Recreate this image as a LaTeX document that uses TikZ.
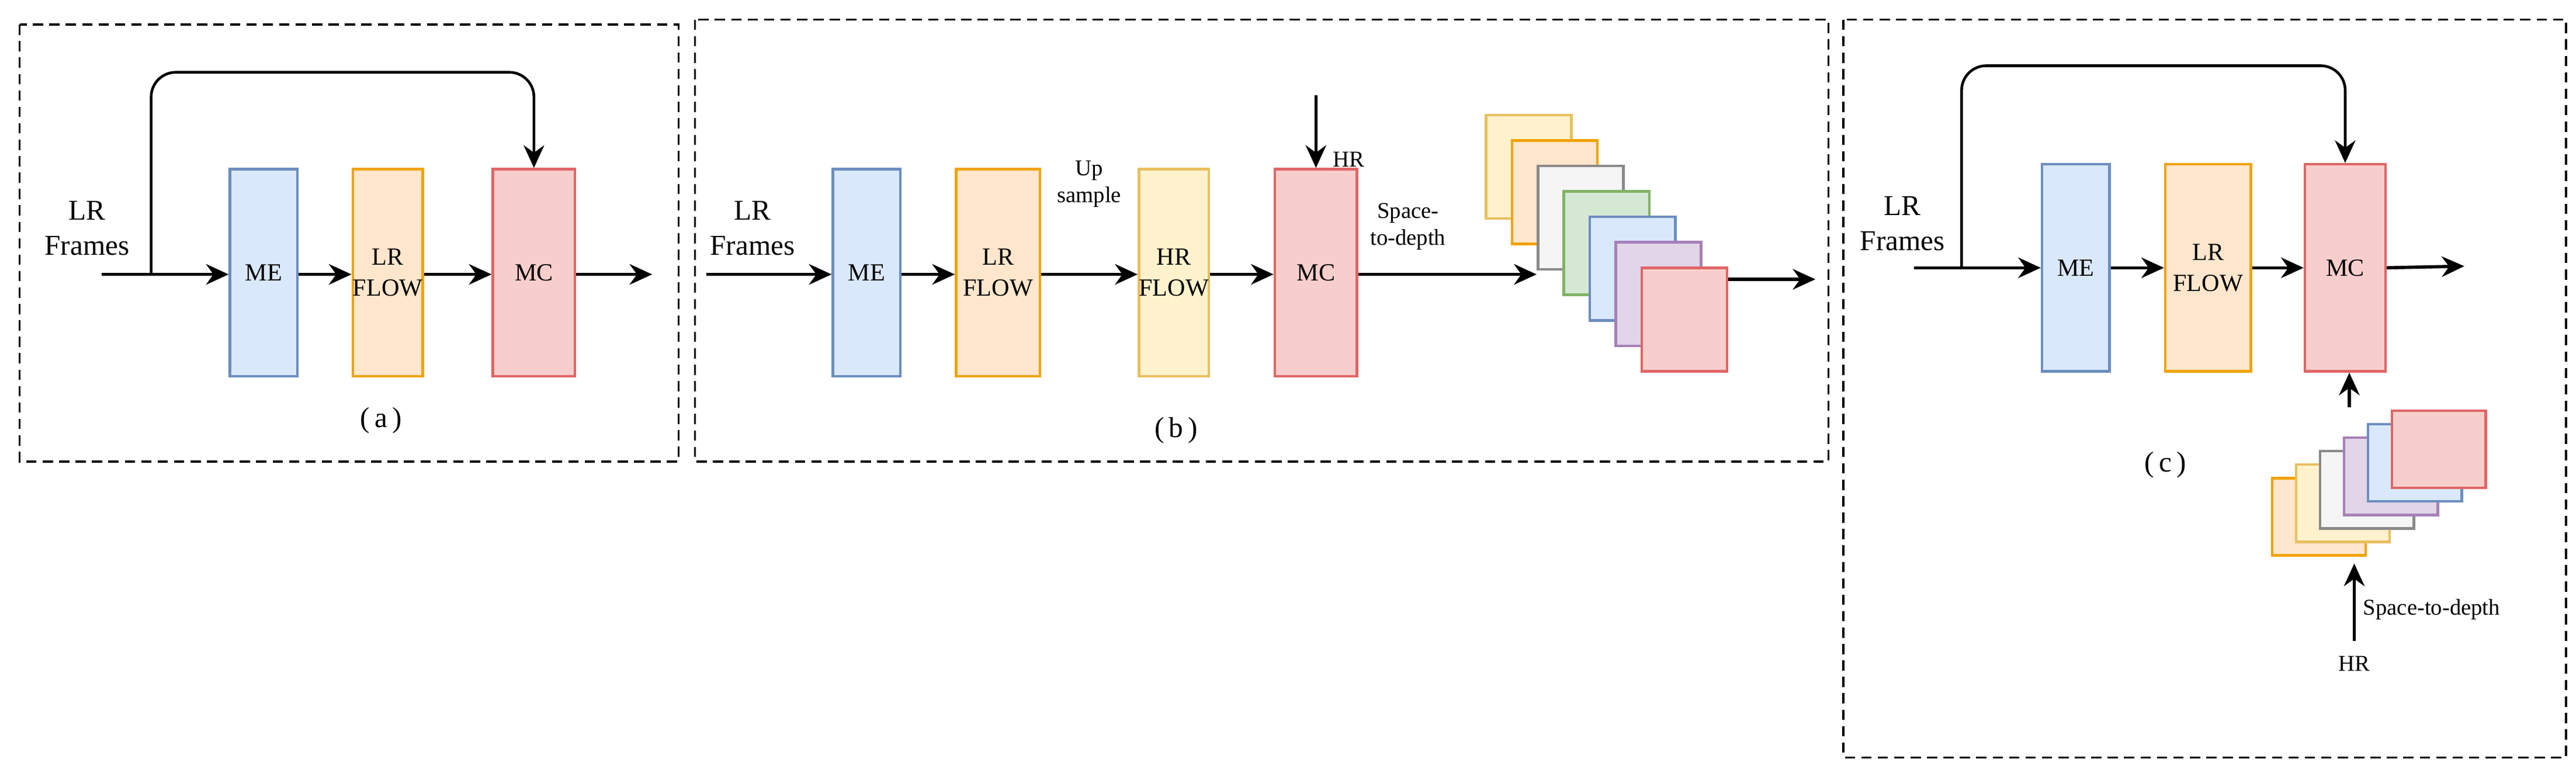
\documentclass[tikz,border=0pt]{standalone}
\usepackage{fontspec}
\setmainfont{Liberation Serif}
\usetikzlibrary{arrows.meta}
\definecolor{bF}{HTML}{DAE8FC}\definecolor{bD}{HTML}{6C8EBF}
\definecolor{oF}{HTML}{FFE6CC}\definecolor{oD}{HTML}{F0A30A}
\definecolor{rF}{HTML}{F8CECC}\definecolor{rD}{HTML}{E06666}
\definecolor{yF}{HTML}{FFF2CC}\definecolor{yD}{HTML}{E8C060}
\definecolor{gF}{HTML}{F5F5F5}\definecolor{gD}{HTML}{8A8A8A}
\definecolor{grF}{HTML}{D5E8D4}\definecolor{grD}{HTML}{82B366}
\definecolor{pF}{HTML}{E1D5E7}\definecolor{pD}{HTML}{A680B8}
\tikzset{
 blk/.style={draw=#1D,fill=#1F,line width=1.3pt,minimum height=3.543cm,inner sep=0pt,align=center,font=\fontsize{12}{15}\selectfont},
 cb/.style={draw=#1D,fill=#1F,line width=1.3pt,minimum width=1.462cm,minimum height=1.772cm,inner sep=0pt},
 cc/.style={draw=#1D,fill=#1F,line width=1.3pt,minimum width=1.603cm,minimum height=1.322cm,inner sep=0pt},
 ar/.style={line width=1.6pt,-{Stealth[length=11pt,width=10pt]}},
 panel/.style={draw,line width=1pt,dash pattern=on 5pt off 3pt},
 lbl/.style={font=\fontsize{14}{17}\selectfont,align=center,inner sep=1pt},
 sm/.style={font=\fontsize{11}{13}\selectfont,align=center,inner sep=1pt},
}
\begin{document}
\begin{tikzpicture}[x=0.02812cm,y=-0.02812cm]
\useasboundingbox (0,0) rectangle (1568,470.5);
% panels
\draw[panel] (12,15) rectangle (413,281);
\draw[panel] (423,12) rectangle (1113,281);
\draw[panel] (1122,12) rectangle (1562,461);
% (a)
\node[blk=b,minimum width=1.153cm] (aME) at (160.5,166) {ME};
\node[blk=o,minimum width=1.181cm] (aLR) at (236,166) {LR\\FLOW};
\node[blk=r,minimum width=1.406cm] (aMC) at (325,166) {MC};
\node[lbl] (aLab) at (53,139) {LR\\Frames};
\coordinate (aIn) at (62,167);
\coordinate (aSplit) at (92,167);
\coordinate (aOut) at (397,167);
\draw[ar] (aIn) -- (aME.west|-aIn);
\draw[line width=1.3pt,rounded corners=12pt,-{Stealth[length=11pt,width=10pt]}] (aSplit) -- (92,44) -- (aMC.north|-0,44) -- (aMC.north);
\draw[ar] (aME.east|-aIn) -- (aLR.west|-aIn);
\draw[ar] (aLR.east|-aIn) -- (aMC.west|-aIn);
\draw[ar] (aMC.east|-aIn) -- (aOut);
\node[lbl] (aCap) at (232,256) {(\,a\,)};
% (b)
\node[blk=b,minimum width=1.153cm] (bME) at (527.5,166) {ME};
\node[blk=o,minimum width=1.434cm] (bLR) at (607.5,166) {LR\\FLOW};
\node[blk=y,minimum width=1.153cm] (bHR) at (714.5,166) {HR\\FLOW};
\node[blk=r,minimum width=1.406cm] (bMC) at (801,166) {MC};
\node[lbl] (bLab) at (458,139) {LR\\Frames};
\coordinate (bIn) at (430,167);
\draw[ar] (bIn) -- (bME.west|-bIn);
\draw[ar] (bME.east|-bIn) -- (bLR.west|-bIn);
\draw[ar] (bLR.east|-bIn) -- (bHR.west|-bIn);
\node[sm] (bUp) at (663,112) {Up\\sample};
\draw[ar] (bHR.east|-bIn) -- (bMC.west|-bIn);
\coordinate (bHRin) at (801,58);
\draw[ar] (bHRin) -- (bMC.north);
\node[sm,anchor=west] (bHRl) at (810,97) {HR};
\node[sm] (bS2D) at (857,138) {Space-\\to-depth};
\foreach \n/\c [count=\i from 0] in {c1/y,c2/o,c3/g,c4/gr,c5/b,c6/p,c7/r}{
  \node[cb=\c] (b\n) at (930.5+15.8*\i,101.5+15.5*\i) {};
}
\draw[ar] (bMC.east|-bIn) -- (bc3.west|-bIn);
\coordinate (bOut) at (1105,170);
\draw[ar] (bc7.east|-bOut) -- (bOut);
\node[lbl] (bCap) at (716,262) {(\,b\,)};
% (c)
\node[blk=b,minimum width=1.153cm] (cME) at (1263.5,163) {ME};
\node[blk=o,minimum width=1.462cm] (cLR) at (1344,163) {LR\\FLOW};
\node[blk=r,minimum width=1.378cm] (cMC) at (1427.5,163) {MC};
\node[lbl] (cLab) at (1158,136) {LR\\Frames};
\coordinate (cIn) at (1165,163);
\coordinate (cOut) at (1500,162);
\draw[ar] (cIn) -- (cME.west|-cIn);
\draw[line width=1.3pt,rounded corners=12pt,-{Stealth[length=11pt,width=10pt]}] (1194,163) -- (1194,40) -- (cMC.north|-0,40) -- (cMC.north);
\draw[ar] (cME.east|-cIn) -- (cLR.west|-cIn);
\draw[ar] (cLR.east|-cIn) -- (cMC.west|-cIn);
\draw[ar] (cMC.east|-cIn) -- (cOut);
\node[lbl] (cCap) at (1318,283) {(\,c\,)};
\foreach \n/\c [count=\i from 0] in {d1/o,d2/y,d3/g,d4/p,d5/b,d6/r}{
  \node[cc=\c] (c\n) at (1411.5+14.6*\i,314.5-8.2*\i) {};
}
\coordinate (cUp) at (1430,248);
\draw[ar] (cUp) -- (cMC.south-|cUp);
\coordinate (cHRb) at (1433,390);
\draw[ar] (cHRb) -- (1433,343);
\node[sm] (cHRl) at (1433,404) {HR};
\node[sm,anchor=west] (cS2D) at (1437,371) {Space-to-depth};
\end{tikzpicture}
\end{document}
